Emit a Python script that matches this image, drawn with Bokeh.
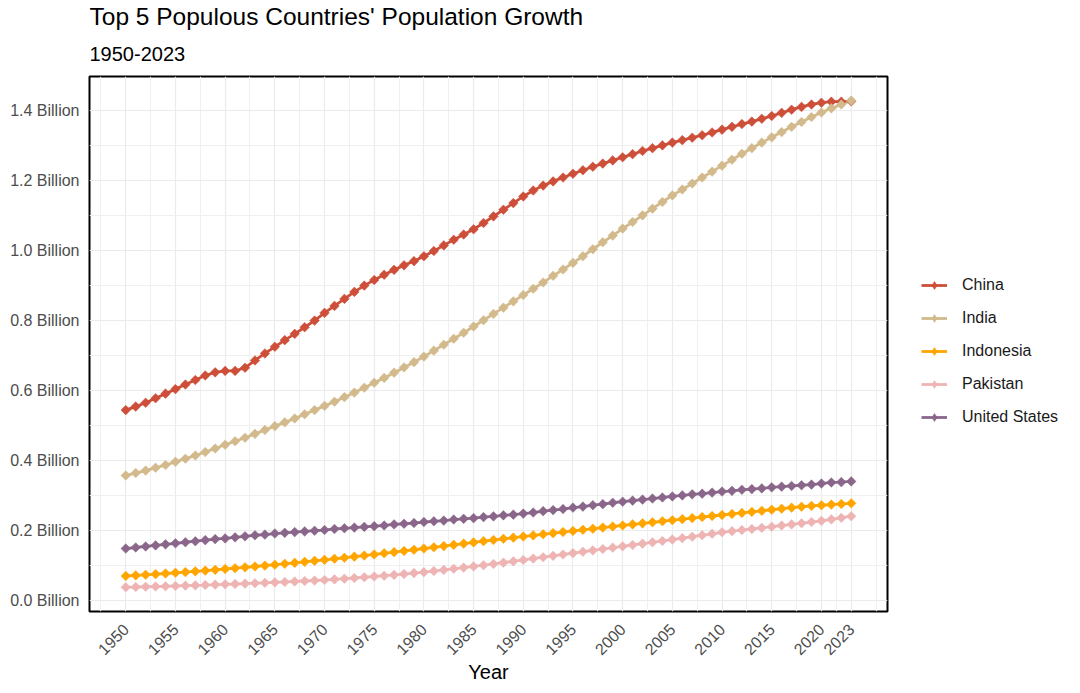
import math
from bokeh.plotting import figure
from bokeh.layouts import row
from bokeh.models import (FixedTicker, CustomJSTickFormatter, Legend, LegendItem,
                          Title, Range1d, ColumnDataSource)
from bokeh.embed import file_html
from bokeh.resources import INLINE

FONT = "Liberation Sans"

# ---------------- data (population, billions) ----------------
years = list(range(1950, 2024))

countries = ["China", "India", "Indonesia", "Pakistan", "United States"]

china = [0.544, 0.554, 0.565, 0.578, 0.591, 0.604, 0.617, 0.630, 0.643, 0.652,
         0.656, 0.656, 0.665, 0.686, 0.706, 0.725, 0.744, 0.762, 0.781, 0.800,
         0.822, 0.842, 0.862, 0.882, 0.900, 0.916, 0.931, 0.945, 0.958, 0.970,
         0.984, 0.999, 1.015, 1.031, 1.046, 1.061, 1.079, 1.098, 1.117, 1.136,
         1.155, 1.172, 1.186, 1.198, 1.209, 1.220, 1.230, 1.240, 1.249, 1.258,
         1.267, 1.276, 1.285, 1.293, 1.301, 1.309, 1.316, 1.323, 1.330, 1.338,
         1.346, 1.354, 1.362, 1.369, 1.377, 1.385, 1.394, 1.403, 1.411, 1.418,
         1.423, 1.426, 1.426, 1.427]

india = [0.357, 0.364, 0.371, 0.379, 0.387, 0.396, 0.405, 0.414, 0.424, 0.434,
         0.445, 0.455, 0.465, 0.476, 0.487, 0.498, 0.509, 0.520, 0.532, 0.544,
         0.556, 0.568, 0.581, 0.594, 0.608, 0.622, 0.636, 0.651, 0.666, 0.681,
         0.697, 0.714, 0.731, 0.748, 0.765, 0.783, 0.801, 0.819, 0.837, 0.855,
         0.873, 0.891, 0.909, 0.928, 0.946, 0.965, 0.984, 1.004, 1.024, 1.043,
         1.063, 1.082, 1.101, 1.120, 1.139, 1.158, 1.175, 1.192, 1.209, 1.226,
         1.243, 1.260, 1.277, 1.293, 1.309, 1.324, 1.339, 1.354, 1.368, 1.382,
         1.395, 1.407, 1.418, 1.429]

indonesia = [0.0695, 0.0712, 0.0730, 0.0748, 0.0767, 0.0787, 0.0807, 0.0828, 0.0850, 0.0872,
             0.0895, 0.0918, 0.0942, 0.0967, 0.0992, 0.1018, 0.1045, 0.1072, 0.1100, 0.1128,
             0.1157, 0.1187, 0.1217, 0.1248, 0.1280, 0.1312, 0.1345, 0.1378, 0.1412, 0.1446,
             0.1481, 0.1516, 0.1551, 0.1586, 0.1621, 0.1656, 0.1691, 0.1725, 0.1759, 0.1792,
             0.1824, 0.1856, 0.1888, 0.1920, 0.1952, 0.1984, 0.2016, 0.2048, 0.2080, 0.2111,
             0.2141, 0.2171, 0.2201, 0.2231, 0.2261, 0.2291, 0.2321, 0.2351, 0.2381, 0.2411,
             0.2440, 0.2470, 0.2500, 0.2530, 0.2560, 0.2590, 0.2620, 0.2650, 0.2676, 0.2700,
             0.2719, 0.2738, 0.2755, 0.2775]

pakistan = [0.0375, 0.0381, 0.0388, 0.0395, 0.0402, 0.0410, 0.0419, 0.0428, 0.0437, 0.0447,
            0.0457, 0.0467, 0.0478, 0.0489, 0.0501, 0.0513, 0.0525, 0.0538, 0.0552, 0.0566,
            0.0581, 0.0599, 0.0618, 0.0638, 0.0659, 0.0681, 0.0703, 0.0727, 0.0752, 0.0778,
            0.0806, 0.0837, 0.0869, 0.0902, 0.0935, 0.0969, 0.1004, 0.1040, 0.1077, 0.1115,
            0.1154, 0.1193, 0.1232, 0.1271, 0.1310, 0.1349, 0.1389, 0.1428, 0.1467, 0.1506,
            0.1544, 0.1582, 0.1620, 0.1659, 0.1698, 0.1737, 0.1777, 0.1818, 0.1860, 0.1902,
            0.1945, 0.1977, 0.2009, 0.2041, 0.2073, 0.2105, 0.2138, 0.2171, 0.2204, 0.2238,
            0.2272, 0.2314, 0.2358, 0.2405]

united_states = [0.148, 0.151, 0.154, 0.157, 0.160, 0.163, 0.166, 0.169, 0.172, 0.175,
                 0.177, 0.180, 0.183, 0.186, 0.188, 0.191, 0.193, 0.195, 0.197, 0.199,
                 0.201, 0.204, 0.206, 0.208, 0.210, 0.212, 0.214, 0.217, 0.219, 0.221,
                 0.224, 0.226, 0.228, 0.231, 0.233, 0.235, 0.238, 0.240, 0.243, 0.245,
                 0.248, 0.251, 0.255, 0.258, 0.261, 0.265, 0.268, 0.272, 0.275, 0.279,
                 0.282, 0.285, 0.288, 0.291, 0.294, 0.297, 0.300, 0.303, 0.305, 0.308,
                 0.311, 0.313, 0.316, 0.318, 0.320, 0.323, 0.325, 0.327, 0.329, 0.331,
                 0.334, 0.337, 0.338, 0.340]

x_tick_years = [1950, 1955, 1960, 1965, 1970, 1975, 1980, 1985, 1990, 1995,
                2000, 2005, 2010, 2015, 2020, 2023]
x_minor_years = [1947.5, 1952.5, 1957.5, 1962.5, 1967.5, 1972.5, 1977.5, 1982.5,
                 1987.5, 1992.5, 1997.5, 2002.5, 2007.5, 2012.5, 2017.5, 2021.5, 2025.5]
y_ticks = [0.0, 0.2, 0.4, 0.6, 0.8, 1.0, 1.2, 1.4]
y_minor = [0.1, 0.3, 0.5, 0.7, 0.9, 1.1, 1.3]

series = [china, india, indonesia, pakistan, united_states]
colors = ["#CD4F39", "#D2BA8C", "#FFA500", "#EEB4B4", "#8B668B"]

LINE_W = 2.8
MARK_SIZE = 6.8

sources = [ColumnDataSource(dict(x=years, y=vals)) for vals in series]

# ---------------- main figure ----------------
p = figure(width=889, height=693,
           x_range=Range1d(1946.35, 2026.65), y_range=Range1d(-0.032, 1.498),
           output_backend="svg", toolbar_location=None, title=None,
           min_border_left=89, min_border_right=2, min_border_bottom=82,
           min_border_top=0, background_fill_color="white",
           border_fill_color="white")

p.outline_line_color = "black"
p.outline_line_width = 2

sub = Title(text="1950-2023", text_font=FONT, text_font_size="20px",
            text_font_style="normal", text_color="black", align="left", standoff=31)
main = Title(text="Top 5 Populous Countries' Population Growth", text_font=FONT,
             text_font_size="24.5px", text_font_style="normal", text_color="black",
             align="left", standoff=0)
p.add_layout(sub, "above")
p.add_layout(main, "above")

# axes
p.xaxis.ticker = FixedTicker(ticks=x_tick_years, minor_ticks=x_minor_years)
p.yaxis.ticker = FixedTicker(ticks=y_ticks, minor_ticks=y_minor)
p.yaxis.formatter = CustomJSTickFormatter(code="return tick.toFixed(1) + ' Billion';")
p.xaxis.major_label_orientation = math.pi / 4
for ax in (p.xaxis, p.yaxis):
    ax.axis_line_color = None
    ax.major_tick_line_color = None
    ax.minor_tick_line_color = None
    ax.major_tick_out = 0
    ax.major_tick_in = 0
    ax.minor_tick_out = 0
    ax.minor_tick_in = 0
    ax.major_label_text_font = FONT
    ax.major_label_text_color = "#4D4D4D"
p.xaxis.major_label_text_font_size = "16px"
p.yaxis.major_label_text_font_size = "16px"
p.xaxis.major_label_standoff = 15
p.yaxis.major_label_standoff = 10
p.xaxis.axis_label = "Year"
p.xaxis.axis_label_text_font = FONT
p.xaxis.axis_label_text_font_size = "20px"
p.xaxis.axis_label_text_font_style = "normal"
p.xaxis.axis_label_text_color = "black"
p.xaxis.axis_label_standoff = -2

for g in (p.xgrid, p.ygrid):
    g.grid_line_color = "#EBEBEB"
    g.grid_line_width = 1.2
    g.minor_grid_line_color = "#F0F0F0"
    g.minor_grid_line_width = 1

for src, col in zip(sources, colors):
    p.line("x", "y", source=src, line_color=col, line_width=LINE_W)
for src, col in zip(sources, colors):
    p.scatter("x", "y", source=src, marker="square", angle=math.pi / 4,
              size=MARK_SIZE, fill_color=col, line_color=col, line_width=0.5)

# ---------------- legend panel (separate figure to the right) ----------------
# The same series are attached here only to feed the legend keys; this panel's
# ranges keep the series themselves out of view.
pl = figure(width=191, height=693, x_range=Range1d(0, 1), y_range=Range1d(5, 6),
            output_backend="svg", toolbar_location=None, title=None,
            x_axis_type=None, y_axis_type=None,
            min_border=0, background_fill_color="white", border_fill_color="white")
pl.outline_line_color = None
pl.grid.visible = False

items = []
for name, src, col in zip(countries, sources, colors):
    lr = pl.line("x", "y", source=src, line_color=col, line_width=LINE_W)
    sr = pl.scatter("x", "y", source=src, marker="diamond", size=10.5,
                    fill_color=col, line_color=col, line_width=0.5)
    items.append(LegendItem(label=name, renderers=[lr, sr], index=0))

legend = Legend(items=items, location=(32, 184), glyph_width=26, glyph_height=20,
                label_standoff=15, spacing=13, padding=0, margin=0,
                border_line_color=None, background_fill_alpha=0,
                label_text_font=FONT, label_text_font_size="16px",
                label_text_color="#1A1A1A", label_height=20)
pl.add_layout(legend)

layout = row(p, pl, spacing=0)
open("out.html", "w").write(file_html(layout, INLINE))
